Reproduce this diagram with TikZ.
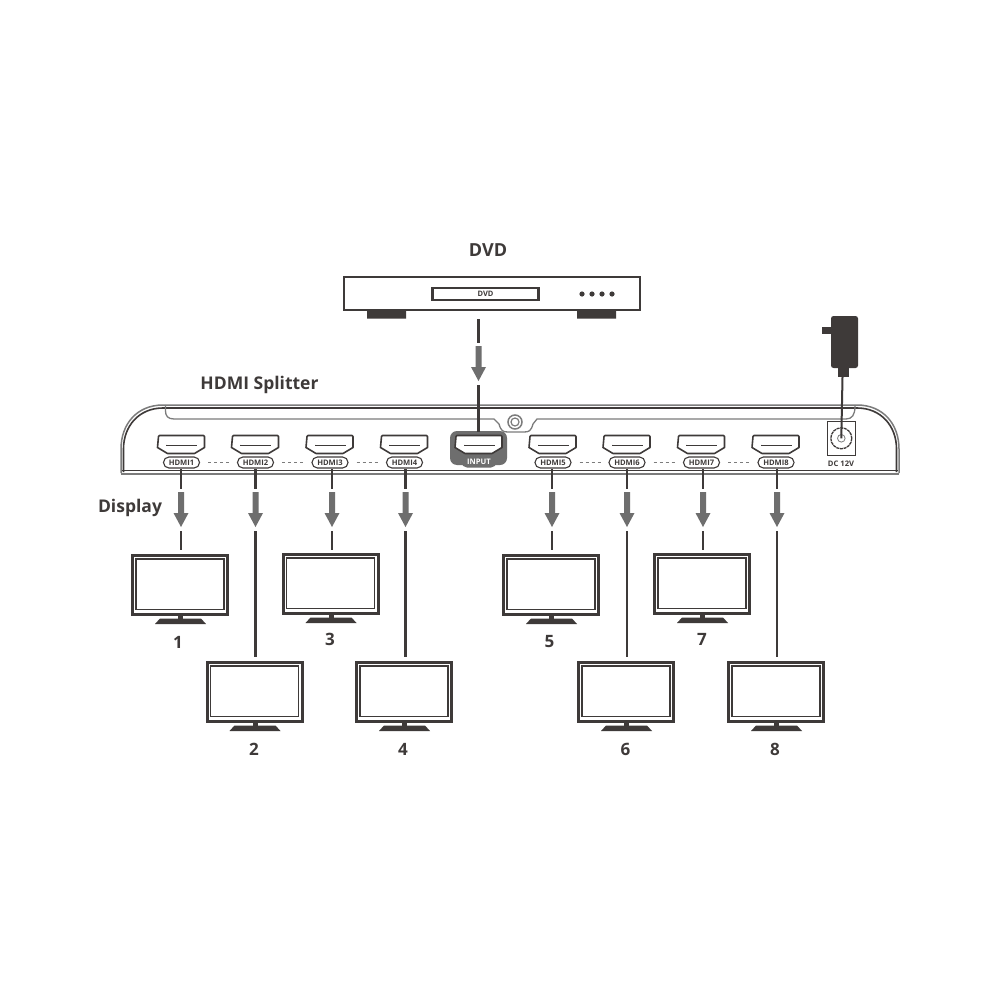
\documentclass[tikz,border=0pt]{standalone}
\usepackage{fontspec}
\setmainfont{Open Sans}
\usetikzlibrary{calc}
\definecolor{ink}{HTML}{3E3A39}
\definecolor{midgrey}{HTML}{6E6E6E}
\definecolor{softgrey}{HTML}{7C7C7C}
\tikzset{
  x=1pt,y=-1pt,
  heading/.style={font=\bfseries\fontsize{17.5}{19}\selectfont,text=ink,inner sep=0pt},
  numeral/.style={font=\bfseries\fontsize{17}{19}\selectfont,text=ink,inner sep=0pt},
  pill/.style={draw=ink,line width=1.1pt,fill=white,rounded corners=5.4pt,minimum width=36pt,minimum height=11pt,inner sep=0pt,
    font=\bfseries\fontsize{7.6}{8}\selectfont,text=ink},
  inputpill/.style={pill,draw=none,fill=midgrey,text=white},
  wire/.style={draw=ink,line width=2.4pt},
  flow/.style={fill=midgrey,draw=none},
  screen/.style={draw=ink,line width=3pt,fill=white,minimum width=95pt,minimum height=59pt,inner sep=0pt},
  chain/.style={draw=softgrey,line width=1pt,dash pattern=on 3.4pt off 2.6pt},
}
% HDMI socket: horizontal centre, top edge
\newcommand{\socket}[3][ink]{%
  \draw[#1,line width=1.6pt,fill=white,line join=round]
    ($(#2,#3)+(-23,1)$) -- ++(1,-1) -- ++(44,0) -- ++(1,1) -- ++(0,11) -- ++(-10,6) -- ++(-27,0) -- ++(-10,-6) -- cycle;
  \draw[#1,line width=1pt] ($(#2,#3)+(-15,9)$) -- ++(0,1) -- ++(30,0) -- ++(0,-1);
}
% Grey block arrow pointing down, its shaft starting at (#1,#2)
\newcommand{\flowarrow}[2]{%
  \fill[flow] ($(#1,#2)+(-3,0)$) -- ++(6,0) -- ++(0,21) -- ++(4.5,0) -- ($(#1,#2)+(0,35)$) -- ($(#1,#2)+(-7.5,21)$) -- ++(4.5,0) -- cycle;
}
% Monitor: name, left, top, number position and number
\newcommand{\monitor}[6]{%
  \node[screen,anchor=north west] (#1) at (#2,#3) {};
  \draw[ink,line width=1.6pt] ($(#1.north west)+(5,5)$) rectangle ($(#1.south east)+(-5,-6.5)$);
  \fill[ink] ($(#1.south)+(-2,0)$) rectangle ++(5,3);
  \fill[ink] ($(#1.south)+(-20,2.5)$) -- ++(41,0) -- ++(5,5.5) -- ++(-51,0) -- cycle;
  \node[numeral] (#1label) at (#4,#5) {#6};
}
\begin{document}
\begin{tikzpicture}
\useasboundingbox (0,0) rectangle (1000,1000);
\fill[white] (0,0) rectangle (1000,1000);

% DVD player
\node[heading,font=\bfseries\fontsize{18}{20}\selectfont] (dvdtitle) at (488,250) {DVD};
\node[draw=ink,line width=2.3pt,minimum width=296pt,minimum height=33pt,inner sep=0pt,anchor=north west] (dvd) at (343,276) {};
\node[draw=ink,line width=2.3pt,minimum width=106pt,minimum height=12pt,inner sep=0pt,
  font=\bfseries\fontsize{7.5}{8}\selectfont,text=ink] (slot) at (485.5,294) {DVD};
\fill[ink] (367,311) rectangle (406,318.5) (577,311) rectangle (616,318.5);
\foreach \dotx in {582,592,602,612} \fill[ink] (\dotx,294) circle (2.6);

% Splitter body
\node[heading] (splitter) at (259.5,384.5) {HDMI Splitter};
\draw[softgrey,line width=1.5pt] (121,474) -- (899,474);
\draw[softgrey,line width=1.5pt,line join=round] (121,473) -- (121,449) .. controls (121,424) and (137,405) .. (163,405) -- (857,405) .. controls (883,405) and (899,424) .. (899,449) -- (899,473);
\draw[ink,line width=1.6pt] (123.5,472) -- (123.5,449) .. controls (123.5,426) and (139,408) .. (163,408) -- (857,408) .. controls (881,408) and (896.5,426) .. (896.5,449) -- (896.5,472);
\draw[ink,line width=1.5pt] (122,470.5) -- (898,470.5);
\draw[softgrey,line width=1.3pt] (165.5,406) -- (165.5,411) .. controls (165.5,416) and (168,419) .. (174,419)
  -- (494,419) -- (499,424) .. controls (501,431) and (503,432) .. (508,432) -- (524,432) .. controls (529,432) and (531,431) .. (533,424) -- (537,419)
  -- (846,419) .. controls (852,419) and (855,415) .. (855,406);
\draw[softgrey,line width=1.5pt,fill=white] (515,422) circle (7);
\draw[softgrey,line width=1.2pt] (515,422) circle (4);

% Highlighted input socket
\fill[midgrey,rounded corners=7pt] (450,431) rectangle (507,465);
\socket[ink]{479}{435.5}
\node[inputpill,minimum width=35pt] (input) at (479,462) {INPUT};

% Output sockets with their labels
\foreach \portx/\portname in {181.5/1,255.5/2,330/3,404.5/4,553/5,627/6,701.5/7,776/8} {
  \socket{\portx}{435.5}
  \node[pill] (hdmi\portname) at (\portx,462.5) {HDMI\portname};
}
\draw[chain] (hdmi1.east)++(8,0) -- ($(hdmi2.west)+(-6,0)$);
\draw[chain] (hdmi2.east)++(8,0) -- ($(hdmi3.west)+(-6,0)$);
\draw[chain] (hdmi3.east)++(8,0) -- ($(hdmi4.west)+(-6,0)$);
\draw[chain] (hdmi5.east)++(8,0) -- ($(hdmi6.west)+(-6,0)$);
\draw[chain] (hdmi6.east)++(8,0) -- ($(hdmi7.west)+(-6,0)$);
\draw[chain] (hdmi7.east)++(8,0) -- ($(hdmi8.west)+(-6,0)$);

% DC socket and power adapter
\node[draw=ink,line width=1.6pt,fill=white,minimum width=28pt,minimum height=34pt,inner sep=0pt,anchor=north west] (dc) at (826.5,420.5) {};
\draw[ink,line width=1.3pt,dash pattern=on 3pt off .7pt] (dc.center) circle (10.5);
\draw[softgrey,line width=.8pt] (dc.center) circle (3.8);
\node[inner sep=0pt,font=\bfseries\fontsize{7.6}{8}\selectfont,text=ink] (dclabel) at (841,463.5) {DC 12V};
\fill[ink,rounded corners=2.5pt] (831,316) -- (858,316) -- (858,368) -- (831,368) -- cycle;
\fill[ink] (822,326.5) rectangle (832,334);
\fill[ink] (838,367) rectangle (849,377);
\coordinate (plug) at (842.5,377);
\draw[ink,line width=2pt] (plug) -- (dc.center);

% Signal path from the player to the input
\coordinate (dvdout) at (478.5,319);
\coordinate (dvdgap) at (478.5,343);
\coordinate (inresume) at (478.5,385);
\coordinate (intop) at (478.5,432);
\draw[wire] (dvdout) -- (dvdgap);
\flowarrow{478.5}{346}
\draw[wire] (inresume) -- (intop);

% Display side
\node[heading] (display) at (130,507.5) {Display};
\monitor{tv1}{131}{554}{178}{642}{1}
\monitor{tv2}{205.5}{661}{254}{749}{2}
\monitor{tv3}{281.5}{553}{330}{639}{3}
\monitor{tv4}{355}{661}{403}{749}{4}
\monitor{tv5}{502}{554}{549.5}{642}{5}
\monitor{tv6}{577}{661}{625.5}{749}{6}
\monitor{tv7}{653}{553}{702}{639}{7}
\monitor{tv8}{727}{661}{775}{749}{8}

% One branch per output: socket label, block arrow, screen
\foreach \n/\xpos/\stop in {1/181/550,2/255.5/657,3/332/550,4/405.5/657,5/552/550,6/627/657,7/703/550,8/777/657} {
  \coordinate (out\n) at (\xpos,469);
  \coordinate (gap\n) at (\xpos,489);
  \coordinate (res\n) at (\xpos,531);
  \coordinate (end\n) at (\xpos,\stop);
  \draw[wire] (out\n) -- (gap\n);
  \flowarrow{\xpos}{492}
  \draw[wire] (res\n) -- (end\n);
}
\end{tikzpicture}
\end{document}
